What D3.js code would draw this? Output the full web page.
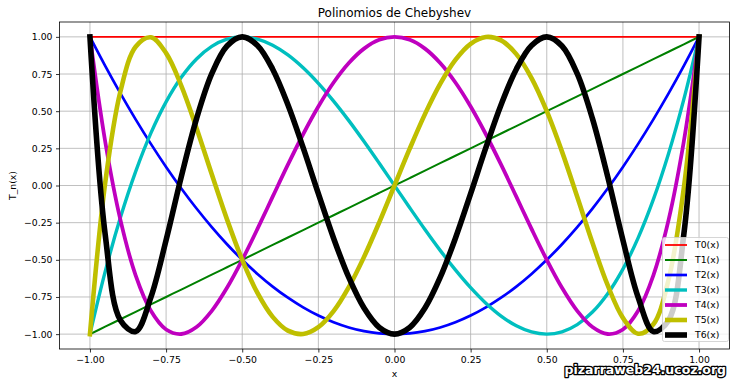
<!DOCTYPE html>
<html>
<head>
<meta charset="utf-8">
<script src="https://cdn.jsdelivr.net/npm/d3@7"></script>
<style>
  body { margin: 0; background: #fff; }
  svg { display: block; font-family: 'DejaVu Sans', sans-serif; }
</style>
</head>
<body>
<div id="chart"></div>
<script>
// Sample points (x from -1 to 1, step 0.05).
const xs = [-1, -0.95, -0.9, -0.85, -0.8, -0.75, -0.7, -0.65, -0.6, -0.55, -0.5, -0.45, -0.4, -0.35, -0.3, -0.25, -0.2, -0.15, -0.1, -0.05,
  0, 0.05, 0.1, 0.15, 0.2, 0.25, 0.3, 0.35, 0.4, 0.45, 0.5, 0.55, 0.6, 0.65, 0.7, 0.75, 0.8, 0.85, 0.9, 0.95, 1];

const t0 = [1, 1, 1, 1, 1, 1, 1, 1, 1, 1, 1, 1, 1, 1, 1, 1, 1, 1, 1, 1,
  1, 1, 1, 1, 1, 1, 1, 1, 1, 1, 1, 1, 1, 1, 1, 1, 1, 1, 1, 1, 1];
const t1 = [-1, -0.95, -0.9, -0.85, -0.8, -0.75, -0.7, -0.65, -0.6, -0.55, -0.5, -0.45, -0.4, -0.35, -0.3, -0.25, -0.2, -0.15, -0.1, -0.05,
  0, 0.05, 0.1, 0.15, 0.2, 0.25, 0.3, 0.35, 0.4, 0.45, 0.5, 0.55, 0.6, 0.65, 0.7, 0.75, 0.8, 0.85, 0.9, 0.95, 1];
const t2 = [1, 0.805, 0.62, 0.445, 0.28, 0.125, -0.02, -0.155, -0.28, -0.395, -0.5, -0.595, -0.68, -0.755, -0.82, -0.875, -0.92, -0.955, -0.98, -0.995,
  -1, -0.995, -0.98, -0.955, -0.92, -0.875, -0.82, -0.755, -0.68, -0.595, -0.5, -0.395, -0.28, -0.155, -0.02, 0.125, 0.28, 0.445, 0.62, 0.805, 1];
const t3 = [-1, -0.5795, -0.216, 0.0935, 0.352, 0.5625, 0.728, 0.8515, 0.936, 0.9845, 1, 0.9855, 0.944, 0.8785, 0.792, 0.6875, 0.568, 0.4365, 0.296, 0.1495,
  0, -0.1495, -0.296, -0.4365, -0.568, -0.6875, -0.792, -0.8785, -0.944, -0.9855, -1, -0.9845, -0.936, -0.8515, -0.728, -0.5625, -0.352, -0.0935, 0.216, 0.5795, 1];
const t4 = [1, 0.2961, -0.2312, -0.604, -0.8432, -0.9688, -0.9992, -0.952, -0.8432, -0.688, -0.5, -0.292, -0.0752, 0.1401, 0.3448, 0.5313, 0.6928, 0.8241, 0.9208, 0.9801,
  1, 0.9801, 0.9208, 0.8241, 0.6928, 0.5313, 0.3448, 0.1401, -0.0752, -0.292, -0.5, -0.688, -0.8432, -0.952, -0.9992, -0.9688, -0.8432, -0.604, -0.2312, 0.2961, 1];
const t5 = [-1, 0.017, 0.6322, 0.9332, 0.9971, 0.8906, 0.6709, 0.386, 0.0758, -0.2278, -0.5, -0.7227, -0.8838, -0.9765, -0.9989, -0.9531, -0.8451, -0.6837, -0.4802, -0.2475,
  0, 0.2475, 0.4802, 0.6837, 0.8451, 0.9531, 0.9989, 0.9765, 0.8838, 0.7227, 0.5, 0.2278, -0.0758, -0.386, -0.6709, -0.8906, -0.9971, -0.9332, -0.6322, -0.017, 1];
const t6 = [1, -0.3284, -0.9067, -0.9825, -0.7522, -0.3672, 0.06, 0.4501, 0.7522, 0.9385, 1, 0.9424, 0.7823, 0.5435, 0.2545, -0.0547, -0.3548, -0.6189, -0.8248, -0.9553,
  -1, -0.9553, -0.8248, -0.6189, -0.3548, -0.0547, 0.2545, 0.5435, 0.7823, 0.9424, 1, 0.9385, 0.7522, 0.4501, 0.06, -0.3672, -0.7522, -0.9825, -0.9067, -0.3284, 1];

const seriesNames = ['T0(x)', 'T1(x)', 'T2(x)', 'T3(x)', 'T4(x)', 'T5(x)', 'T6(x)'];
const seriesValues = [t0, t1, t2, t3, t4, t5, t6];
const xTicks = [-1, -0.75, -0.5, -0.25, 0, 0.25, 0.5, 0.75, 1];
const yTicks = [-1, -0.75, -0.5, -0.25, 0, 0.25, 0.5, 0.75, 1];

// Style per series.
const colors = ['#ff0000', '#008000', '#0000ff', '#00bfbf', '#bf00bf', '#bfbf00', '#000000'];
const widths = [1.8, 2, 2.7, 3.4, 3.8, 4.6, 5.6];

const width = 736;
const height = 387;
const margin = { top: 22, right: 6.5, bottom: 38, left: 59.5 };
const fontSize = 9.3;

const svg = d3.select('#chart')
  .append('svg')
  .attr('width', width)
  .attr('height', height);

const x = d3.scaleLinear()
  .domain([-1.1, 1.1])
  .range([margin.left, width - margin.right]);

const y = d3.scaleLinear()
  .domain([-1.1, 1.1])
  .range([height - margin.bottom, margin.top]);

const fmt = d3.format('.2f');

// Grid.
const grid = svg.append('g')
  .attr('stroke', '#b0b0b0')
  .attr('stroke-width', 0.8);

grid.selectAll('.gx')
  .data(xTicks)
  .join('line')
  .attr('x1', d => x(d))
  .attr('x2', d => x(d))
  .attr('y1', y.range()[0])
  .attr('y2', y.range()[1]);

grid.selectAll('.gy')
  .data(yTicks)
  .join('line')
  .attr('x1', x.range()[0])
  .attr('x2', x.range()[1])
  .attr('y1', d => y(d))
  .attr('y2', d => y(d));

// Curves.
const line = d3.line()
  .x((d, i) => x(xs[i]))
  .y(d => y(d))
  .curve(d3.curveCatmullRom.alpha(0.5));

const clip = svg.append('clipPath')
  .attr('id', 'plot-clip')
  .append('rect')
  .attr('x', x.range()[0])
  .attr('y', y.range()[1])
  .attr('width', x.range()[1] - x.range()[0])
  .attr('height', y.range()[0] - y.range()[1]);

svg.append('g')
  .attr('clip-path', 'url(#plot-clip)')
  .selectAll('path')
  .data(seriesValues)
  .join('path')
  .attr('fill', 'none')
  .attr('stroke', (d, i) => colors[i])
  .attr('stroke-width', (d, i) => widths[i])
  .attr('stroke-linejoin', 'round')
  .attr('stroke-linecap', 'square')
  .attr('d', d => line(d));

// Axes.
const xAxis = svg.append('g')
  .attr('transform', `translate(0,${y.range()[0]})`)
  .call(d3.axisBottom(x).tickValues(xTicks).tickFormat(fmt).tickSize(3.5).tickPadding(3.5));

const yAxis = svg.append('g')
  .attr('transform', `translate(${x.range()[0]},0)`)
  .call(d3.axisLeft(y).tickValues(yTicks).tickFormat(fmt).tickSize(3.5).tickPadding(3.5));

[xAxis, yAxis].forEach(axis => {
  axis.select('.domain').remove();
  axis.selectAll('line').attr('stroke', '#000').attr('stroke-width', 0.8);
  axis.selectAll('text')
    .attr('fill', '#000')
    .style('font-family', "'DejaVu Sans', sans-serif")
    .style('font-size', fontSize + 'px');
});

// Frame.
svg.append('rect')
  .attr('x', x.range()[0])
  .attr('y', y.range()[1])
  .attr('width', x.range()[1] - x.range()[0])
  .attr('height', y.range()[0] - y.range()[1])
  .attr('fill', 'none')
  .attr('stroke', '#000')
  .attr('stroke-width', 0.8);

// Title and axis labels.
svg.append('text')
  .attr('x', (x.range()[0] + x.range()[1]) / 2)
  .attr('y', 17)
  .attr('text-anchor', 'middle')
  .style('font-size', '12px')
  .text('Polinomios de Chebyshev');

svg.append('text')
  .attr('x', (x.range()[0] + x.range()[1]) / 2)
  .attr('y', 377)
  .attr('text-anchor', 'middle')
  .style('font-size', fontSize + 'px')
  .text('x');

svg.append('text')
  .attr('transform', `translate(16,${(y.range()[0] + y.range()[1]) / 2}) rotate(-90)`)
  .attr('text-anchor', 'middle')
  .style('font-size', fontSize + 'px')
  .text('T_n(x)');

// Legend.
const legend = svg.append('g')
  .attr('transform', 'translate(662,237)');

legend.append('rect')
  .attr('x', 0.5)
  .attr('y', 0.5)
  .attr('width', 66)
  .attr('height', 104)
  .attr('rx', 2)
  .attr('fill', 'rgba(255,255,255,0.8)')
  .attr('stroke', '#cccccc')
  .attr('stroke-width', 0.8);

const entry = legend.selectAll('.entry')
  .data(seriesNames)
  .join('g')
  .attr('transform', (d, i) => `translate(0,${8 + i * 15})`);

entry.append('line')
  .attr('x1', 3)
  .attr('x2', 25)
  .attr('stroke', (d, i) => colors[i])
  .attr('stroke-width', (d, i) => widths[i]);

entry.append('text')
  .attr('x', 33)
  .attr('y', 3.4)
  .style('font-size', fontSize + 'px')
  .text(d => d);

// Watermark.
svg.append('text')
  .attr('x', 726)
  .attr('y', 374)
  .attr('text-anchor', 'end')
  .style('font-size', '12.5px')
  .style('font-weight', 'bold')
  .attr('fill', '#fff')
  .attr('stroke', '#000')
  .attr('stroke-width', 2.6)
  .attr('stroke-linejoin', 'round')
  .attr('paint-order', 'stroke')
  .text('pizarraweb24.ucoz.org');
</script>
</body>
</html>
